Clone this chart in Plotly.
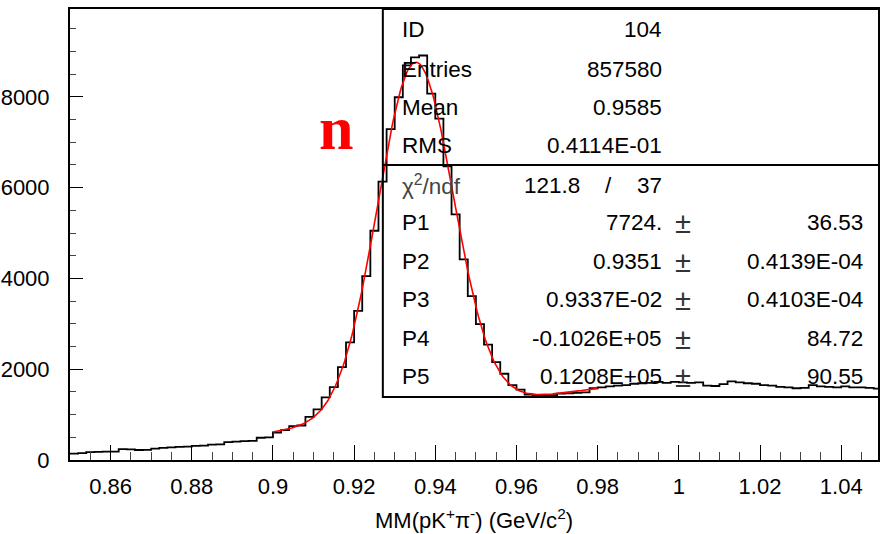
import numpy as np
import plotly.graph_objects as go

# ---------------- data ----------------
bin_start = 0.85
bin_width = 0.002
counts = [
    140, 150, 175, 180, 185, 185, 240, 235, 220, 225,
    250, 265, 280, 290, 295, 310, 315, 340, 345, 395,
    405, 415, 420, 490, 500, 606, 657, 745, 760, 949,
    1117, 1380, 1606, 2044, 2592, 3285, 4052, 5050, 6130, 7290,
    7990, 8690, 8870, 8910, 8070, 7520, 6470, 5410, 4420, 3610,
    2995, 2540, 2155, 1900, 1650, 1550, 1440, 1420, 1425, 1430,
    1460, 1470, 1480, 1490, 1580, 1600, 1620, 1640, 1650, 1680,
    1690, 1700, 1720, 1700, 1720, 1710, 1700, 1710, 1640, 1630,
    1670, 1730, 1710, 1690, 1680, 1650, 1640, 1610, 1600, 1580,
    1590, 1650, 1620, 1610, 1600, 1620, 1600, 1600, 1590, 1570,
]

# fit parameters (gaussian + linear), as printed in the stats box
P1, P2, P3, P4, P5 = 7724.0, 0.9351, 0.009337, -10260.0, 12080.0
fit_lo, fit_hi = 0.90, 0.98

stat_labels = ["ID", "Entries", "Mean", "RMS"]
stat_values = ["104", "857580", "0.9585", "0.4114E-01"]
chi2_val, ndf_val = "121.8", "37"
par_labels = ["P1", "P2", "P3", "P4", "P5"]
par_values = ["7724.", "0.9351", "0.9337E-02", "-0.1026E+05", "0.1208E+05"]
par_errors = ["36.53", "0.4139E-04", "0.4103E-04", "84.72", "90.55"]

# ---------------- layout geometry (pixels) ----------------
W, H = 881, 534
PL, PR, PT, PB = 69, 880, 9, 460


def px(x):
    return (x - PL) / (PR - PL)


def py(y):
    return (PB - y) / (PB - PT)


FONT = "Liberation Sans, Arial, sans-serif"

fig = go.Figure()

# histogram outline
fig.add_trace(go.Scatter(
    y=counts + [counts[-1]], x0=bin_start, dx=bin_width,
    mode="lines", line=dict(color="black", width=1.8, shape="hv"),
    hoverinfo="skip", showlegend=False,
))

# fit curve
xf = np.linspace(fit_lo, fit_hi, 241)
yf = P1 * np.exp(-0.5 * ((xf - P2) / P3) ** 2) + P4 + P5 * xf
fig.add_trace(go.Scatter(
    x=xf, y=yf, mode="lines", line=dict(color="red", width=1.6),
    hoverinfo="skip", showlegend=False,
))

# stats box
box_l, box_r, box_t, box_b, box_div = 383, 881, 9, 397, 165
fig.add_shape(type="rect", xref="paper", yref="paper",
              x0=px(box_l), x1=px(box_r), y0=py(box_b), y1=py(box_t),
              line=dict(color="black", width=2), fillcolor="rgba(0,0,0,0)")
fig.add_shape(type="line", xref="paper", yref="paper",
              x0=px(box_l), x1=px(box_r), y0=py(box_div), y1=py(box_div),
              line=dict(color="black", width=2))

fs = 22.5
lab_x, val_x, pm_x, err_x = 400, 665, 684, 867
rows_top = [30, 69, 107, 146]
rows_bot = [222, 261, 299, 338, 376]
chi_y = 185


def txt(s, x, y, anchor, size=fs, color="black", family=FONT):
    fig.add_annotation(text=s, xref="paper", yref="paper", x=px(x), y=py(y),
                       xanchor=anchor, yanchor="middle", showarrow=False,
                       font=dict(family=family, size=size, color=color))


for lab, val, yy in zip(stat_labels, stat_values, rows_top):
    txt(lab, lab_x, yy, "left")
    txt(val, val_x, yy, "right")

txt("χ<sup>2</sup>/ndf", lab_x, chi_y, "left", color="#444")
txt(chi2_val, 583, chi_y, "right")
txt("/", 610, chi_y, "center")
txt(ndf_val, val_x, chi_y, "right")

for lab, val, err, yy in zip(par_labels, par_values, par_errors, rows_bot):
    txt(lab, lab_x, yy, "left")
    txt(val, val_x, yy, "right")
    txt("±", pm_x, yy + 1, "center", size=29, color="#333")
    txt(err, err_x, yy, "right")

# red label
txt("<b>n</b>", 336, 128, "center", size=62, color="red",
    family="Liberation Serif, Times New Roman, serif")

# x axis title
fig.add_annotation(text="MM(pK<sup>+</sup>π<sup>-</sup>) (GeV/c<sup>2</sup>)",
                   xref="paper", yref="paper", x=px(475), y=py(519),
                   xanchor="center", yanchor="middle", showarrow=False,
                   font=dict(family=FONT, size=22, color="black"))

x_per_px = 1 / 4074.0
y_top = (PB - PT) / 90.8 * 2000

fig.update_layout(
    width=W, height=H,
    margin=dict(l=PL, r=W - PR, t=PT, b=H - PB, pad=0),
    plot_bgcolor="white", paper_bgcolor="white",
    font=dict(family=FONT, size=22, color="black"),
    xaxis=dict(
        range=[bin_start, bin_start + (PR - PL) * x_per_px],
        showgrid=False, zeroline=False,
        showline=True, linecolor="black", linewidth=2, mirror=True,
        ticks="inside", ticklen=15, tickwidth=1.3, tickcolor="black",
        tickmode="linear", tick0=0, dtick=0.02,
        minor=dict(ticks="inside", ticklen=8, tickwidth=1, tickcolor="#444",
                   dtick=0.005, tick0=0, showgrid=False),
        tickfont=dict(family=FONT, size=22, color="black"),
        ticklabelstandoff=6,
    ),
    yaxis=dict(
        range=[0, y_top],
        showgrid=False, zeroline=False,
        showline=True, linecolor="black", linewidth=2, mirror=True,
        ticks="inside", ticklen=13, tickwidth=1.3, tickcolor="black",
        tickmode="linear", tick0=0, dtick=2000, tickformat="d",
        minor=dict(ticks="inside", ticklen=6, tickwidth=1, tickcolor="#444",
                   dtick=500, tick0=0, showgrid=False),
        tickfont=dict(family=FONT, size=22, color="black"),
        ticklabelstandoff=14,
    ),
)

fig.write_html("out.html")
